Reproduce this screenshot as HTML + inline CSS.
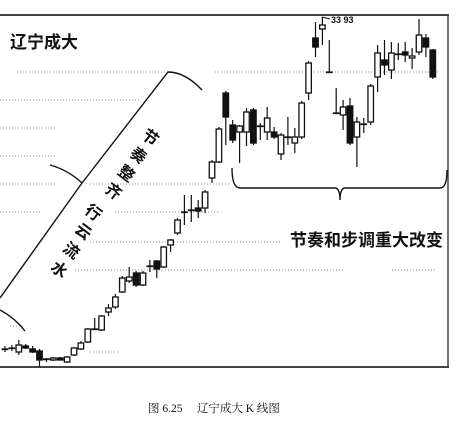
<!DOCTYPE html>
<html><head><meta charset="utf-8"><style>
body{margin:0;background:#fff;}
svg{display:block;font-family:"Liberation Sans","Noto Sans CJK SC",sans-serif;}
</style></head><body>
<svg id="chart" width="459" height="431" viewBox="0 0 459 431">
<g id="grid" stroke="#777" stroke-width="1" stroke-dasharray="1,2" opacity="0.8">
<line x1="17" y1="72" x2="165" y2="72"/><line x1="215" y1="72" x2="440" y2="72"/>
<line x1="0" y1="100" x2="140" y2="100"/>
<line x1="0" y1="128" x2="55" y2="128"/>
<line x1="0" y1="156" x2="55" y2="156"/>
<line x1="0" y1="184" x2="55" y2="184"/><line x1="90" y1="184" x2="230" y2="184"/>
<line x1="0" y1="212" x2="40" y2="212"/><line x1="115" y1="212" x2="220" y2="212"/>
<line x1="90" y1="242" x2="280" y2="242"/>
<line x1="75" y1="270" x2="345" y2="270"/><line x1="392" y1="270" x2="435" y2="270"/>
<line x1="10" y1="326" x2="25" y2="326"/><line x1="90" y1="352" x2="120" y2="352"/>
</g>
<g stroke="#444" fill="none">
<line x1="0" y1="15" x2="449" y2="15" stroke-width="2"/>
<line x1="448" y1="15" x2="448" y2="367" stroke-width="1.5"/>
<line x1="0" y1="367" x2="449" y2="367" stroke-width="2"/>
</g>
<text x="10" y="48" font-size="17" font-weight="bold" fill="#111">辽宁成大</text>
<g stroke="#111" stroke-width="1.4" fill="none">
<path d="M202,90 Q185,72 168,72 L82,183 Q68,170 50,165"/>
<path d="M82,183 L0,298"/>
<path d="M0,310 Q15,318 25,331"/>
<path d="M232,168 Q232,188 240,188 L336,188 Q340,190 340,200 Q340,190 344,188 L440,188 Q447,188 447,170"/>
</g>
<g font-size="16" font-weight="bold" fill="#111">
<text transform="translate(147,142) rotate(37)" text-anchor="middle">节</text>
<text transform="translate(135,160) rotate(37)" text-anchor="middle">奏</text>
<text transform="translate(123,178) rotate(37)" text-anchor="middle">整</text>
<text transform="translate(110,196) rotate(37)" text-anchor="middle">齐</text>
</g>
<g font-size="16" font-weight="bold" fill="#111">
<text transform="translate(90,217) rotate(37)" text-anchor="middle">行</text>
<text transform="translate(80,236) rotate(37)" text-anchor="middle">云</text>
<text transform="translate(68,255) rotate(37)" text-anchor="middle">流</text>
<text transform="translate(56,274) rotate(37)" text-anchor="middle">水</text>
</g>
<text x="290" y="246" font-size="17" font-weight="bold" fill="#111">节奏和步调重大改变</text>
<g id="candles"></g>
<line x1="322" y1="17" x2="330" y2="19" stroke="#111" stroke-width="1"/>
<text x="331" y="23" font-size="9" font-weight="bold" fill="#111">33 93</text>
<text x="148" y="412" font-size="11.5" fill="#111" font-family="'Liberation Serif','Noto Serif CJK SC',serif">图 6.25　 辽宁成大 K 线图</text>
</svg>
<script>
const opens=[3.6,3.7,3.3,3.9,3.6,3.4,2.6,2.5,2.7,2.3,3.0,3.6,4.3,5.6,5.5,7.3,7.8,9.3,10.4,11.2,10.0,11.9,12.4,11.8,14.0,15.2,17.3,17.5,17.7,17.7,20.7,22.3,29.2,26.0,25.3,25.3,27.5,25.9,25.3,25.3,23.1,24.8,24.2,24.8,29.2,34.7,35.6,31.3,27.2,27.0,27.9,24.8,26.1,26.3,30.8,32.5,31.5,33.1,33.3,32.7,33.3,34.7,33.5];
const closes=[3.6,3.7,4.0,3.7,3.3,2.5,2.6,2.7,2.5,2.8,3.7,4.2,5.6,5.6,6.9,7.7,8.8,10.7,10.8,10.0,11.2,11.9,11.6,13.8,14.5,16.5,17.3,17.5,17.4,19.3,22.3,25.6,26.8,24.5,25.9,27.3,24.2,25.9,26.7,24.8,25.0,24.8,24.8,28.2,32.2,33.8,36.0,31.3,27.2,27.8,24.2,26.3,26.1,29.9,33.2,32.0,33.2,33.1,33.0,32.9,35.0,33.8,30.8];
const highs=[3.9,4.0,4.5,4.1,3.9,3.6,2.7,2.8,2.8,2.9,3.8,4.4,5.7,6.7,7.0,8.1,9.1,10.9,11.8,11.4,11.4,12.5,12.5,13.9,14.6,16.7,19.0,19.0,18.5,19.5,22.5,25.8,29.4,26.5,26.0,27.7,27.7,26.2,27.8,25.8,25.2,26.8,25.7,28.4,32.4,36.3,36.8,34.5,29.7,28.5,28.7,26.8,26.7,30.1,34.0,34.5,34.3,34.2,34.3,33.7,36.6,35.1,33.6];
const lows=[3.3,3.4,3.0,3.6,3.2,1.8,2.3,2.4,2.5,2.2,2.9,3.5,4.2,5.5,5.4,6.9,7.6,9.2,10.2,9.8,9.9,11.3,10.7,11.7,13.3,15.0,16.0,16.3,16.7,17.2,20.2,22.2,24.0,24.2,22.2,23.9,24.0,24.5,24.5,24.6,22.5,24.0,23.2,24.6,28.5,32.8,34.0,31.3,27.2,25.5,24.0,21.8,25.2,26.0,29.3,31.0,30.6,32.5,32.3,31.6,33.0,32.8,30.6];
const NS='http://www.w3.org/2000/svg';
function xScale(i){return 5+i*6.9;}
function yScale(p){return 385-p*10;}
const g=document.getElementById('candles');
for(let i=0;i<opens.length;i++){
  const x=xScale(i),o=opens[i],c=closes[i];
  const wick=document.createElementNS(NS,'line');
  
  
  wick.setAttribute('x1',x);wick.setAttribute('x2',x);
  wick.setAttribute('y1',yScale(highs[i]));wick.setAttribute('y2',yScale(lows[i]));
  wick.setAttribute('stroke','#111');wick.setAttribute('stroke-width','1.2');
  g.appendChild(wick);
  const top=yScale(Math.max(o,c)),bot=yScale(Math.min(o,c));
  const b=document.createElementNS(NS,'rect');
  
  
  const h=Math.max(bot-top,1.5);
  b.setAttribute('x',x-2.75);b.setAttribute('y',top);
  b.setAttribute('width',5.5);b.setAttribute('height',h);
  b.setAttribute('stroke','#111');b.setAttribute('stroke-width','1.3');
  b.setAttribute('fill',c>=o?'#fff':'#111');
  if(Math.abs(c-o)<0.05){b.setAttribute('height',0.5);}
  g.appendChild(b);
}
</script>
</body></html>
